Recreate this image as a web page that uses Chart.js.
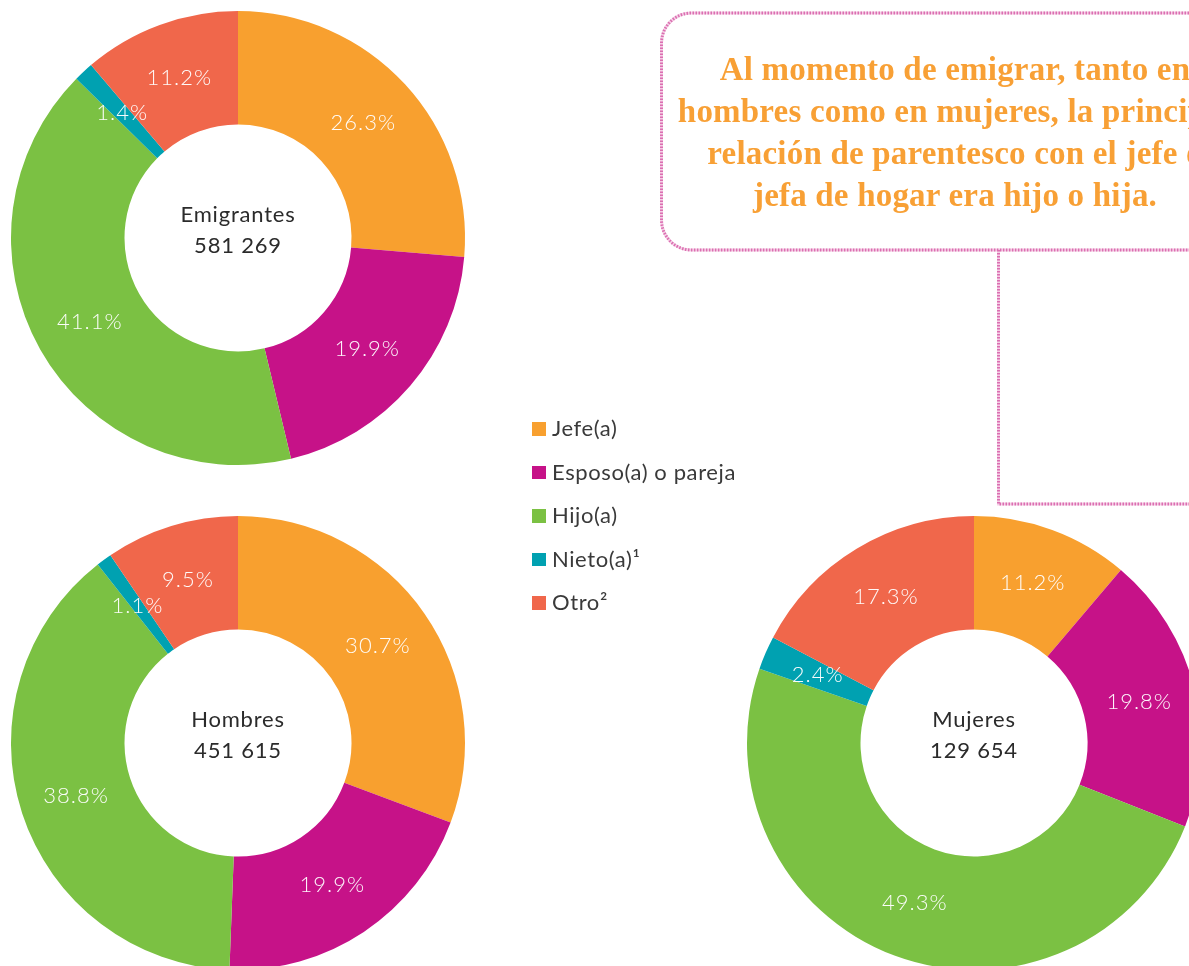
<!DOCTYPE html>
<html>
<head>
<meta charset="utf-8">
<script src="https://cdn.jsdelivr.net/npm/chart.js@4.4.1/dist/chart.umd.min.js"></script>
<style>
  html, body { margin: 0; padding: 0; background: #ffffff; }
  body { width: 1189px; height: 966px; overflow: hidden; position: relative; font-family: Lato, "Open Sans", sans-serif; }
  canvas.donut { position: absolute; }
  #deco { position: absolute; left: 0; top: 0; }
  #callout {
    position: absolute; left: 661px; top: 13px; width: 588px; height: 237px;
    display: flex; align-items: center; justify-content: center; text-align: center;
    font-family: "Liberation Serif", "DejaVu Serif", serif; font-weight: bold;
    font-size: 33px; line-height: 42px; color: #f8a035; white-space: nowrap; letter-spacing: 0.2px;
  }
  #legend { position: absolute; left: 532px; top: 414px; margin: 0; padding: 0; list-style: none; }
  #legend li { height: 43.6px; display: flex; align-items: flex-start; font-size: 22px; font-weight: 400; letter-spacing: 0.6px; color: #3a3a3a; line-height: 28px; }
  #legend li span.sw { display: inline-block; width: 13.5px; height: 13.5px; margin-top: 8px; margin-right: 6.5px; }
</style>
</head>
<body>
<canvas id="deco" width="1189" height="966"></canvas>
<div id="callout"><div>Al momento de emigrar, tanto en<br>hombres como en mujeres, la principal<br>relación de parentesco con el jefe o<br>jefa de hogar era hijo o hija.</div></div>
<ul id="legend"></ul>
<canvas id="c1" class="donut" width="476" height="476" style="left:0px;top:0px;"></canvas>
<canvas id="c2" class="donut" width="476" height="476" style="left:0px;top:505px;"></canvas>
<canvas id="c3" class="donut" width="476" height="476" style="left:736px;top:505px;"></canvas>
<script>
// ---- data ----
const categories = ['Jefe(a)', 'Esposo(a) o pareja', 'Hijo(a)', 'Nieto(a)\u00B9', 'Otro\u00B2'];
const emigrantesValues = [26.3, 19.9, 41.1, 1.4, 11.2];
const hombresValues = [30.7, 19.9, 38.8, 1.1, 9.5];
const mujeresValues = [11.2, 19.8, 49.3, 2.4, 17.3];
const groupNames = ['Emigrantes', 'Hombres', 'Mujeres'];
const groupTotals = ['581 269', '451 615', '129 654'];

// ---- style ----
const sliceColors = ['#f8a02f', '#c61288', '#7bc143', '#00a1b1', '#f0674b'];

// callout box + connector (decoration)
(function drawDeco() {
  const ctx = document.getElementById('deco').getContext('2d');
  function path() {
    ctx.beginPath();
    const x0 = 661.5, y0 = 13, x1 = 1250, y1 = 250, r = 30;
    ctx.moveTo(x1 + 20, y0);
    ctx.lineTo(x0 + r, y0);
    ctx.arcTo(x0, y0, x0, y0 + r, r);
    ctx.lineTo(x0, y1 - r);
    ctx.arcTo(x0, y1, x0 + r, y1, r);
    ctx.lineTo(x1 + 20, y1);
    ctx.moveTo(998.5, y1);
    ctx.lineTo(998.5, 504);
    ctx.lineTo(1200, 504);
  }
  ctx.lineWidth = 3;
  path();
  ctx.strokeStyle = '#f5d0e6';
  ctx.stroke();
  path();
  ctx.setLineDash([1.5, 1.5]);
  ctx.strokeStyle = '#db6fb1';
  ctx.stroke();
})();

// legend
const legendEl = document.getElementById('legend');
categories.forEach((c, i) => {
  const li = document.createElement('li');
  const sw = document.createElement('span');
  sw.className = 'sw';
  sw.style.background = sliceColors[i];
  li.appendChild(sw);
  li.appendChild(document.createTextNode(c));
  legendEl.appendChild(li);
});

const labelPlugin = {
  id: 'sliceLabels',
  afterDatasetsDraw(chart) {
    const ctx = chart.ctx;
    const meta = chart.getDatasetMeta(0);
    const ds = chart.data.datasets[0];
    ctx.save();
    ctx.fillStyle = 'rgba(255,255,255,0.96)';
    ctx.font = '300 22px Lato, "Open Sans", sans-serif';
    ctx.letterSpacing = '1px';
    ctx.textAlign = 'center';
    ctx.textBaseline = 'middle';
    meta.data.forEach((arc, i) => {
      const p = arc.tooltipPosition();
      ctx.fillText(ds.data[i].toFixed(1) + '%', p.x, p.y);
    });
    const cx = (chart.chartArea.left + chart.chartArea.right) / 2;
    const cy = (chart.chartArea.top + chart.chartArea.bottom) / 2;
    const opts = chart.options.plugins.centerText;
    ctx.fillStyle = '#2b2b2b';
    ctx.font = '400 22px Lato, "Open Sans", sans-serif';
    ctx.letterSpacing = '0.8px';
    ctx.fillText(opts.name, cx, cy - 23);
    ctx.fillText(opts.total, cx, cy + 8);
    ctx.restore();
  }
};

function makeDonut(id, values, idx) {
  return new Chart(document.getElementById(id), {
    type: 'doughnut',
    data: {
      labels: categories,
      datasets: [{ data: values, backgroundColor: sliceColors, borderWidth: 0 }]
    },
    options: {
      responsive: false,
      animation: false,
      devicePixelRatio: 1,
      cutout: '50%',
      layout: { padding: 11 },
      plugins: {
        legend: { display: false },
        tooltip: { enabled: false },
        centerText: { name: groupNames[idx], total: groupTotals[idx] }
      }
    },
    plugins: [labelPlugin]
  });
}

makeDonut('c1', emigrantesValues, 0);
makeDonut('c2', hombresValues, 1);
makeDonut('c3', mujeresValues, 2);
</script>
</body>
</html>
